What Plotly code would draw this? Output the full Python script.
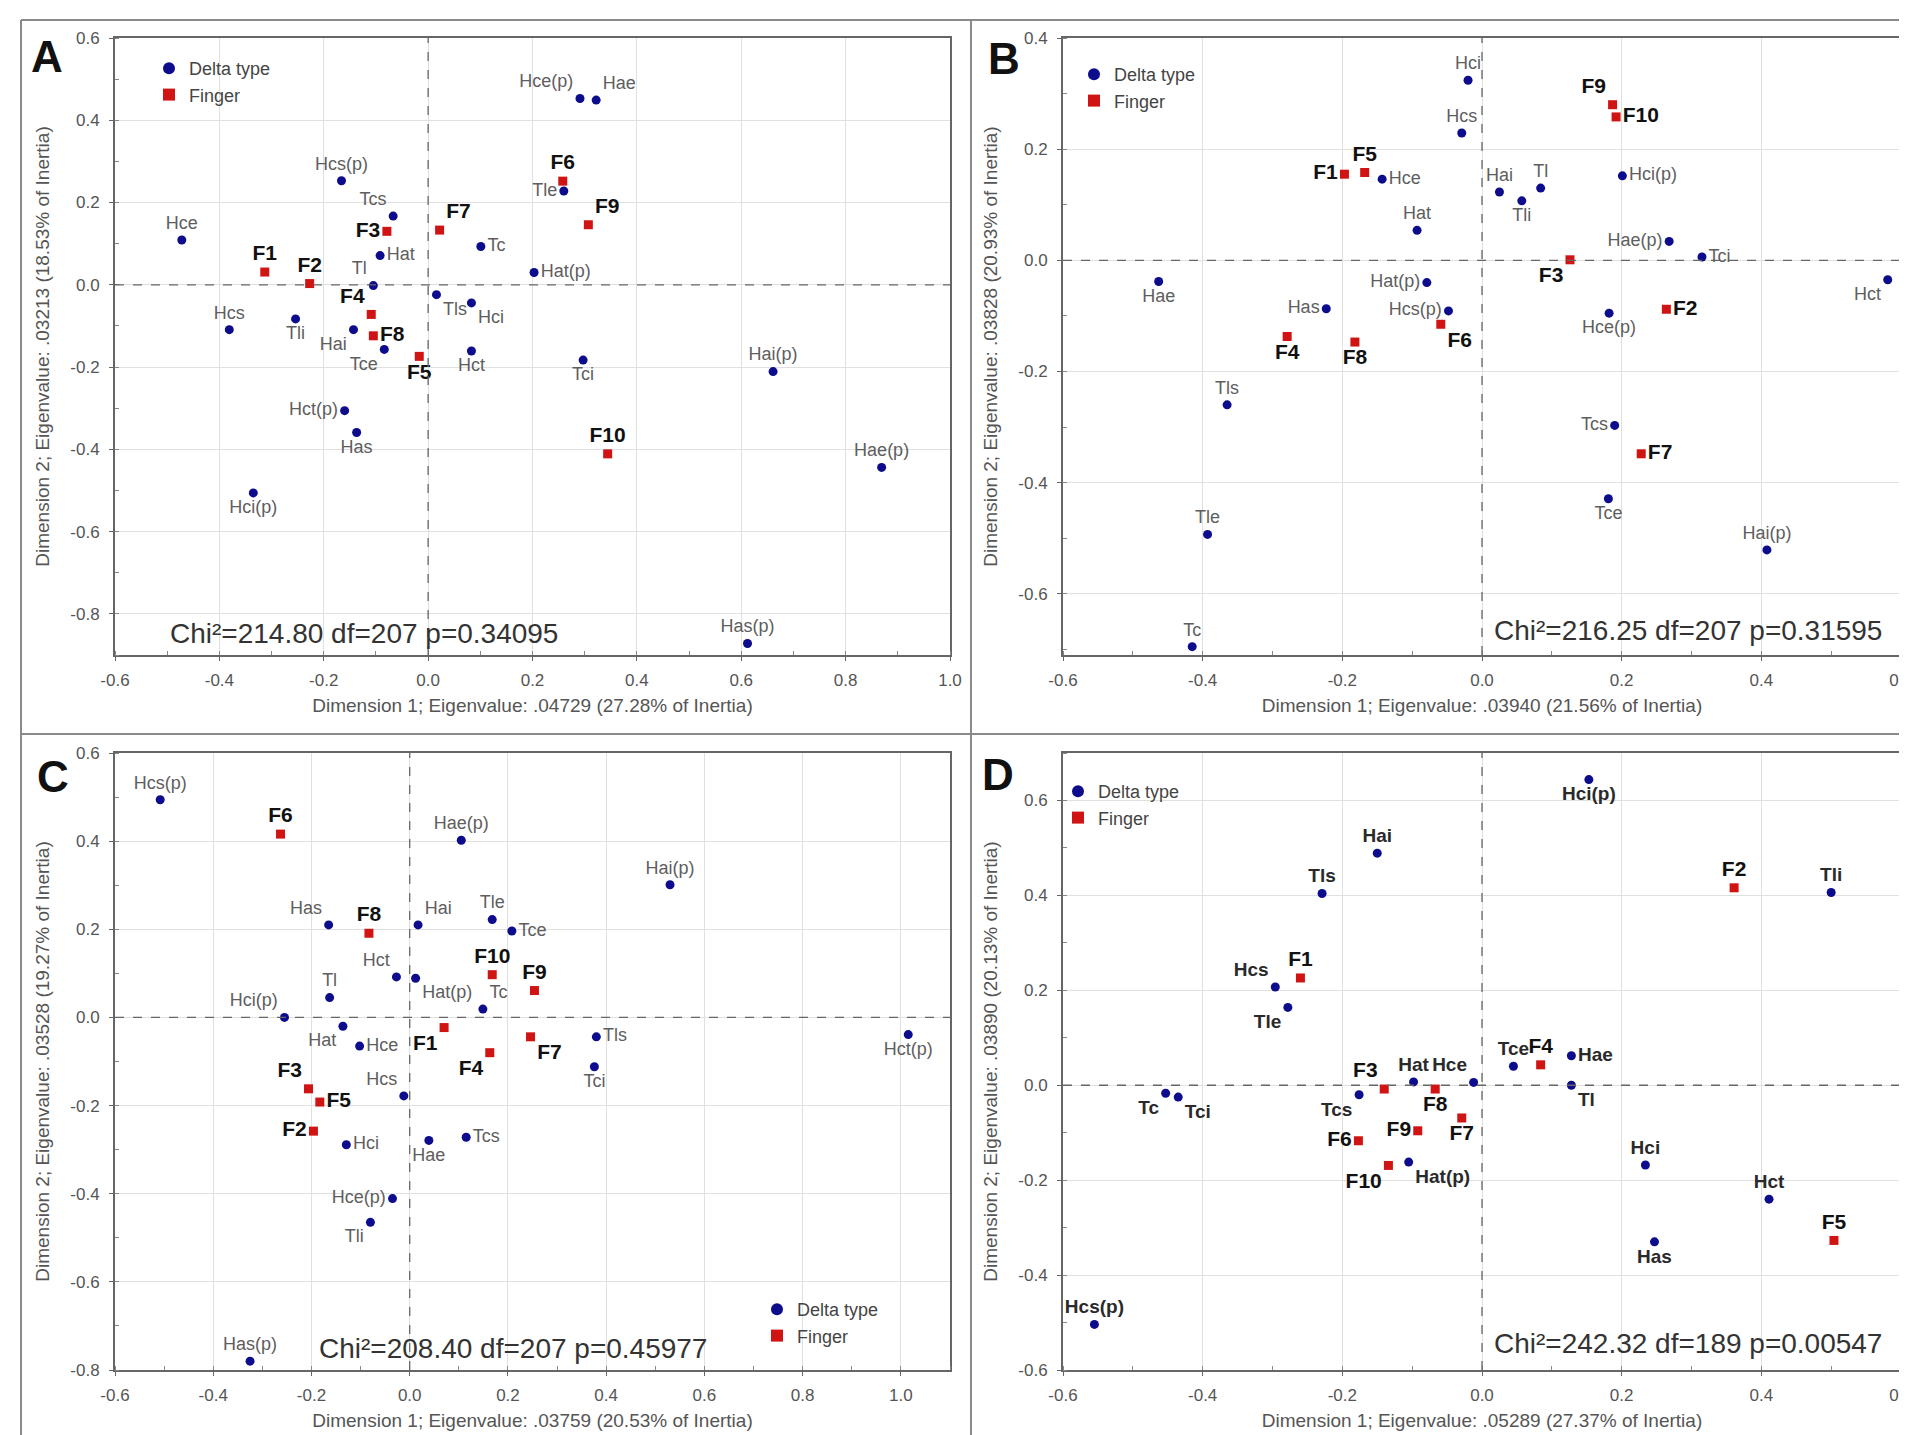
import plotly.graph_objects as go

W, H = 1907, 1435

# ---------------- Panel A ----------------
A_delta_labels = ["Hce", "Hcs", "Tli", "Hcs(p)", "Tcs", "Hat", "Tl", "Hai", "Tce", "Hct(p)", "Has", "Hci(p)",
                  "Tls", "Hci", "Hct", "Tc", "Hat(p)", "Tle", "Hce(p)", "Hae", "Tci", "Hai(p)", "Hae(p)", "Has(p)"]
A_delta_x = [-0.472, -0.381, -0.254, -0.166, -0.067, -0.092, -0.105, -0.143, -0.084, -0.160, -0.137, -0.335,
             0.016, 0.083, 0.083, 0.101, 0.203, 0.260, 0.291, 0.322, 0.297, 0.661, 0.869, 0.612]
A_delta_y = [0.109, -0.109, -0.083, 0.253, 0.167, 0.071, -0.002, -0.109, -0.157, -0.306, -0.359, -0.506,
             -0.024, -0.044, -0.161, 0.093, 0.030, 0.228, 0.453, 0.449, -0.183, -0.211, -0.444, -0.872]
A_finger_labels = ["F1", "F2", "F3", "F4", "F5", "F6", "F7", "F8", "F9", "F10"]
A_finger_x = [-0.313, -0.227, -0.079, -0.109, -0.017, 0.258, 0.022, -0.105, 0.307, 0.344]
A_finger_y = [0.031, 0.003, 0.130, -0.072, -0.174, 0.252, 0.133, -0.124, 0.146, -0.411]
A_xticks = [-0.6, -0.4, -0.2, 0.0, 0.2, 0.4, 0.6, 0.8, 1.0]
A_yticks = [-0.8, -0.6, -0.4, -0.2, 0.0, 0.2, 0.4, 0.6]
A_xtitle = "Dimension 1; Eigenvalue: .04729 (27.28% of Inertia)"
A_ytitle = "Dimension 2; Eigenvalue: .03213 (18.53% of Inertia)"
A_chi = "Chi²=214.80 df=207 p=0.34095"

# ---------------- Panel B ----------------
B_delta_labels = ["Hae", "Tls", "Tle", "Tc", "Has", "Hce", "Hat", "Hat(p)", "Hcs(p)", "Hci", "Hcs", "Hai",
                  "Tli", "Tl", "Hci(p)", "Hae(p)", "Tci", "Hct", "Hce(p)", "Tcs", "Tce", "Hai(p)"]
B_delta_x = [-0.463, -0.365, -0.393, -0.415, -0.223, -0.143, -0.093, -0.079, -0.048, -0.020, -0.029, 0.025,
             0.057, 0.084, 0.201, 0.268, 0.315, 0.581, 0.182, 0.190, 0.181, 0.408]
B_delta_y = [-0.038, -0.260, -0.493, -0.695, -0.087, 0.146, 0.054, -0.040, -0.091, 0.324, 0.229, 0.123,
             0.107, 0.130, 0.152, 0.034, 0.006, -0.035, -0.095, -0.297, -0.429, -0.521]
B_finger_labels = ["F1", "F2", "F3", "F4", "F5", "F6", "F7", "F8", "F9", "F10"]
B_finger_x = [-0.197, 0.264, 0.126, -0.279, -0.168, -0.059, 0.228, -0.182, 0.187, 0.192]
B_finger_y = [0.155, -0.088, 0.001, -0.137, 0.158, -0.115, -0.348, -0.147, 0.280, 0.258]
B_xticks = [-0.6, -0.4, -0.2, 0.0, 0.2, 0.4, 0.6]
B_yticks = [-0.6, -0.4, -0.2, 0.0, 0.2, 0.4]
B_xtitle = "Dimension 1; Eigenvalue: .03940 (21.56% of Inertia)"
B_ytitle = "Dimension 2; Eigenvalue: .03828 (20.93% of Inertia)"
B_chi = "Chi²=216.25 df=207 p=0.31595"

# ---------------- Panel C ----------------
C_delta_labels = ["Hcs(p)", "Hae(p)", "Has", "Hai", "Tle", "Tce", "Hct", "Hat(p)", "Tl", "Hci(p)", "Hat", "Hce",
                  "Tc", "Hcs", "Hci", "Hae", "Tcs", "Hce(p)", "Tli", "Has(p)", "Hai(p)", "Tls", "Tci", "Hct(p)"]
C_delta_x = [-0.508, 0.105, -0.165, 0.017, 0.168, 0.208, -0.027, 0.012, -0.163, -0.255, -0.136, -0.102,
             0.149, -0.012, -0.129, 0.039, 0.115, -0.035, -0.080, -0.325, 0.530, 0.380, 0.376, 1.015]
C_delta_y = [0.494, 0.402, 0.210, 0.210, 0.222, 0.196, 0.092, 0.089, 0.045, 0.000, -0.020, -0.065,
             0.019, -0.178, -0.289, -0.279, -0.272, -0.411, -0.465, -0.780, 0.301, -0.044, -0.112, -0.039]
C_finger_labels = ["F1", "F2", "F3", "F4", "F5", "F6", "F7", "F8", "F9", "F10"]
C_finger_x = [0.070, -0.196, -0.206, 0.163, -0.183, -0.263, 0.246, -0.083, 0.254, 0.168]
C_finger_y = [-0.023, -0.258, -0.162, -0.080, -0.192, 0.416, -0.044, 0.191, 0.061, 0.097]
C_xticks = [-0.6, -0.4, -0.2, 0.0, 0.2, 0.4, 0.6, 0.8, 1.0]
C_yticks = [-0.8, -0.6, -0.4, -0.2, 0.0, 0.2, 0.4, 0.6]
C_xtitle = "Dimension 1; Eigenvalue: .03759 (20.53% of Inertia)"
C_ytitle = "Dimension 2; Eigenvalue: .03528 (19.27% of Inertia)"
C_chi = "Chi²=208.40 df=207 p=0.45977"

# ---------------- Panel D ----------------
D_delta_labels = ["Hai", "Tls", "Hcs", "Tle", "Tc", "Tci", "Tcs", "Hat", "Hat(p)", "Hcs(p)", "Hci(p)", "Tli",
                  "Tce", "Hae", "Hce", "Tl", "Hci", "Hct", "Has"]
D_delta_x = [-0.150, -0.229, -0.296, -0.278, -0.453, -0.435, -0.176, -0.098, -0.105, -0.555, 0.153, 0.500,
             0.045, 0.128, -0.012, 0.128, 0.234, 0.411, 0.247]
D_delta_y = [0.489, 0.404, 0.207, 0.164, -0.017, -0.025, -0.020, 0.007, -0.162, -0.504, 0.644, 0.406,
             0.040, 0.062, 0.006, 0.000, -0.168, -0.240, -0.330]
D_finger_labels = ["F1", "F2", "F3", "F4", "F5", "F6", "F7", "F8", "F9", "F10"]
D_finger_x = [-0.260, 0.361, -0.140, 0.084, 0.504, -0.177, -0.029, -0.067, -0.092, -0.134]
D_finger_y = [0.226, 0.416, -0.008, 0.043, -0.327, -0.117, -0.069, -0.008, -0.096, -0.169]
D_xticks = [-0.6, -0.4, -0.2, 0.0, 0.2, 0.4, 0.6]
D_yticks = [-0.6, -0.4, -0.2, 0.0, 0.2, 0.4, 0.6]
D_xtitle = "Dimension 1; Eigenvalue: .05289 (27.37% of Inertia)"
D_ytitle = "Dimension 2; Eigenvalue: .03890 (20.13% of Inertia)"
D_chi = "Chi²=242.32 df=189 p=0.00547"

# ---------------- label placement (style) ----------------
A_delta_pos = ["top center", "top center", "bottom center", "top center", "top left", "middle right", "top left",
               "bottom left", "bottom left", "middle left", "bottom center", "bottom center", "bottom right",
               "bottom right", "bottom center", "middle right", "middle right", "middle left", "top left",
               "top right", "bottom center", "top center", "top center", "top center"]
A_finger_pos = ["top center", "top center", "middle left", "top left", "bottom center", "top center", "top right",
                "middle right", "top right", "top center"]
B_delta_pos = ["bottom center", "top center", "top center", "top center", "middle left", "middle right",
               "top center", "middle left", "middle left", "top center", "top center", "top center",
               "bottom center", "top center", "middle right", "middle left", "middle right", "bottom left",
               "bottom center", "middle left", "bottom center", "top center"]
B_finger_pos = ["middle left", "middle right", "bottom left", "bottom center", "top center", "bottom right",
                "middle right", "bottom center", "top left", "middle right"]
C_delta_pos = ["top center", "top center", "top left", "top right", "top center", "middle right", "top left",
               "bottom right", "top center", "top left", "bottom left", "middle right", "top right", "top left",
               "middle right", "bottom center", "middle right", "middle left", "bottom left", "top center",
               "top center", "middle right", "bottom center", "bottom center"]
C_finger_pos = ["bottom left", "middle left", "top left", "bottom left", "middle right", "top center",
                "bottom right", "top center", "top center", "top center"]
D_delta_pos = ["top center", "top center", "top left", "bottom left", "bottom left", "bottom right",
               "bottom left", "top center", "bottom right", "top center", "bottom center", "top center",
               "top center", "middle right", "top left", "bottom right", "top center", "top center",
               "bottom center"]
D_finger_pos = ["top center", "top center", "top left", "top center", "top center", "middle left",
                "bottom center", "bottom center", "middle left", "bottom left"]

BLUE = "#0c0c8c"
RED = "#d01414"
FONT = "Liberation Sans, Arial, sans-serif"


def fx(px):
    return px / W


def fy(py):
    return 1 - py / H


panels = [
    dict(letter="A", dl=A_delta_labels, dx=A_delta_x, dy=A_delta_y, dpos=A_delta_pos,
         fl=A_finger_labels, fxv=A_finger_x, fyv=A_finger_y, fpos=A_finger_pos,
         xt=A_xticks, yt=A_yticks, xtitle=A_xtitle, ytitle=A_ytitle, chi=A_chi,
         xr=[-0.6, 1.0], yr=[-0.9, 0.6], box=(107, 942, 30, 647), letter_pos=(39, 48),
         chi_pos=(356, 625), leg=(141, 42), bold=False),
    dict(letter="B", dl=B_delta_labels, dx=B_delta_x, dy=B_delta_y, dpos=B_delta_pos,
         fl=B_finger_labels, fxv=B_finger_x, fyv=B_finger_y, fpos=B_finger_pos,
         xt=B_xticks, yt=B_yticks, xtitle=B_xtitle, ytitle=B_ytitle, chi=B_chi,
         xr=[-0.6, 0.6], yr=[-0.71, 0.4], box=(1055, 1893, 30, 647), letter_pos=(996, 50),
         chi_pos=(1680, 622), leg=(1066, 48), bold=False),
    dict(letter="C", dl=C_delta_labels, dx=C_delta_x, dy=C_delta_y, dpos=C_delta_pos,
         fl=C_finger_labels, fxv=C_finger_x, fyv=C_finger_y, fpos=C_finger_pos,
         xt=C_xticks, yt=C_yticks, xtitle=C_xtitle, ytitle=C_ytitle, chi=C_chi,
         xr=[-0.6, 1.1], yr=[-0.8, 0.6], box=(107, 942, 745, 1362), letter_pos=(45, 768),
         chi_pos=(505, 1340), leg=(749, 1283), bold=False),
    dict(letter="D", dl=D_delta_labels, dx=D_delta_x, dy=D_delta_y, dpos=D_delta_pos,
         fl=D_finger_labels, fxv=D_finger_x, fyv=D_finger_y, fpos=D_finger_pos,
         xt=D_xticks, yt=D_yticks, xtitle=D_xtitle, ytitle=D_ytitle, chi=D_chi,
         xr=[-0.6, 0.6], yr=[-0.6, 0.7], box=(1055, 1893, 745, 1362), letter_pos=(990, 766),
         chi_pos=(1680, 1335), leg=(1050, 765), bold=True),
]

fig = go.Figure()
annotations = []
shapes = []
layout = {}

for i, p in enumerate(panels, start=1):
    sx = "" if i == 1 else str(i)
    xname, yname = "x" + sx, "y" + sx
    legname = "legend" + sx
    if p["bold"]:
        dfont = dict(family=FONT, size=19, color="#2a2a2a", weight="bold")
    else:
        dfont = dict(family=FONT, size=18, color="#5e5e5e")
    ffont = dict(family=FONT, size=21, color="#111111", weight="bold")

    fig.add_trace(go.Scatter(
        x=p["dx"], y=p["dy"], text=p["dl"], textposition=p["dpos"], mode="markers+text",
        marker=dict(symbol="circle", size=9, color=BLUE), textfont=dfont,
        name="Delta type", xaxis=xname, yaxis=yname, legend=legname, cliponaxis=False))
    fig.add_trace(go.Scatter(
        x=p["fxv"], y=p["fyv"], text=p["fl"], textposition=p["fpos"], mode="markers+text",
        marker=dict(symbol="square", size=9, color=RED), textfont=ffont,
        name="Finger", xaxis=xname, yaxis=yname, legend=legname, cliponaxis=False))

    x0, x1, y0, y1 = p["box"]
    tickfont = dict(family=FONT, size=17, color="#555555")
    titlefont = dict(family=FONT, size=19, color="#555555")
    layout["xaxis" + sx] = dict(
        domain=[fx(x0), fx(x1)], range=p["xr"], anchor=yname,
        tickvals=p["xt"], ticktext=[f"{v:.1f}" for v in p["xt"]], tickfont=tickfont,
        ticks="outside", ticklen=4, tickcolor="#666", ticklabelstandoff=5,
        showgrid=True, gridcolor="#e0e0e0", gridwidth=1, zeroline=False,
        showline=True, mirror=True, linecolor="#666666", linewidth=2,
        minor=dict(dtick=0.1, ticks="inside", ticklen=4, tickcolor="#888", showgrid=False),
        title=dict(text=p["xtitle"], font=titlefont, standoff=9), automargin=False)
    layout["yaxis" + sx] = dict(
        domain=[fy(y1), fy(y0)], range=p["yr"], anchor=xname,
        tickvals=p["yt"], ticktext=[f"{v:.1f}" for v in p["yt"]], tickfont=tickfont,
        ticks="outside", ticklen=4, tickcolor="#666", ticklabelstandoff=6,
        showgrid=True, gridcolor="#e0e0e0", gridwidth=1, zeroline=False,
        showline=True, mirror=True, linecolor="#666666", linewidth=2,
        minor=dict(dtick=0.1, ticks="inside", ticklen=4, tickcolor="#888", showgrid=False),
        title=dict(text=p["ytitle"], font=titlefont, standoff=16), automargin=False)

    layout[legname] = dict(
        x=fx(p["leg"][0]), y=fy(p["leg"][1]), xanchor="left", yanchor="top",
        bgcolor="rgba(0,0,0,0)", font=dict(family=FONT, size=18, color="#444444"),
        itemsizing="constant", tracegroupgap=0)

    # dashed zero lines
    shapes.append(dict(type="line", xref=xname, yref=yname + " domain", x0=0, x1=0, y0=0, y1=1,
                       line=dict(color="#666666", width=1.3, dash="dash"), layer="above"))
    shapes.append(dict(type="line", xref=xname + " domain", yref=yname, x0=0, x1=1, y0=0, y1=0,
                       line=dict(color="#666666", width=1.3, dash="dash"), layer="above"))

    annotations.append(dict(text=p["letter"], xref="paper", yref="paper",
                            x=fx(p["letter_pos"][0]), y=fy(p["letter_pos"][1]),
                            xanchor="center", yanchor="middle", showarrow=False,
                            font=dict(family=FONT, size=44, color="#111111", weight="bold")))
    annotations.append(dict(text=p["chi"], xref="paper", yref="paper",
                            x=fx(p["chi_pos"][0]), y=fy(p["chi_pos"][1]),
                            xanchor="center", yanchor="middle", showarrow=False,
                            font=dict(family=FONT, size=28, color="#333333")))

# panel borders
border = dict(color="#8a8a8a", width=2)
shapes += [
    dict(type="line", xref="paper", yref="paper", x0=fx(13), x1=fx(13), y0=fy(12), y1=fy(1435), line=border),
    dict(type="line", xref="paper", yref="paper", x0=fx(13), x1=1, y0=fy(12), y1=fy(12), line=border),
    dict(type="line", xref="paper", yref="paper", x0=fx(963), x1=fx(963), y0=fy(12), y1=fy(1435), line=border),
    dict(type="line", xref="paper", yref="paper", x0=fx(13), x1=1, y0=fy(726), y1=fy(726), line=border),
]

fig.update_layout(
    width=W, height=H, margin=dict(l=0, r=0, t=0, b=0),
    paper_bgcolor="white", plot_bgcolor="white",
    font=dict(family=FONT), annotations=annotations, shapes=shapes,
    **layout)

fig.write_html("out.html")
